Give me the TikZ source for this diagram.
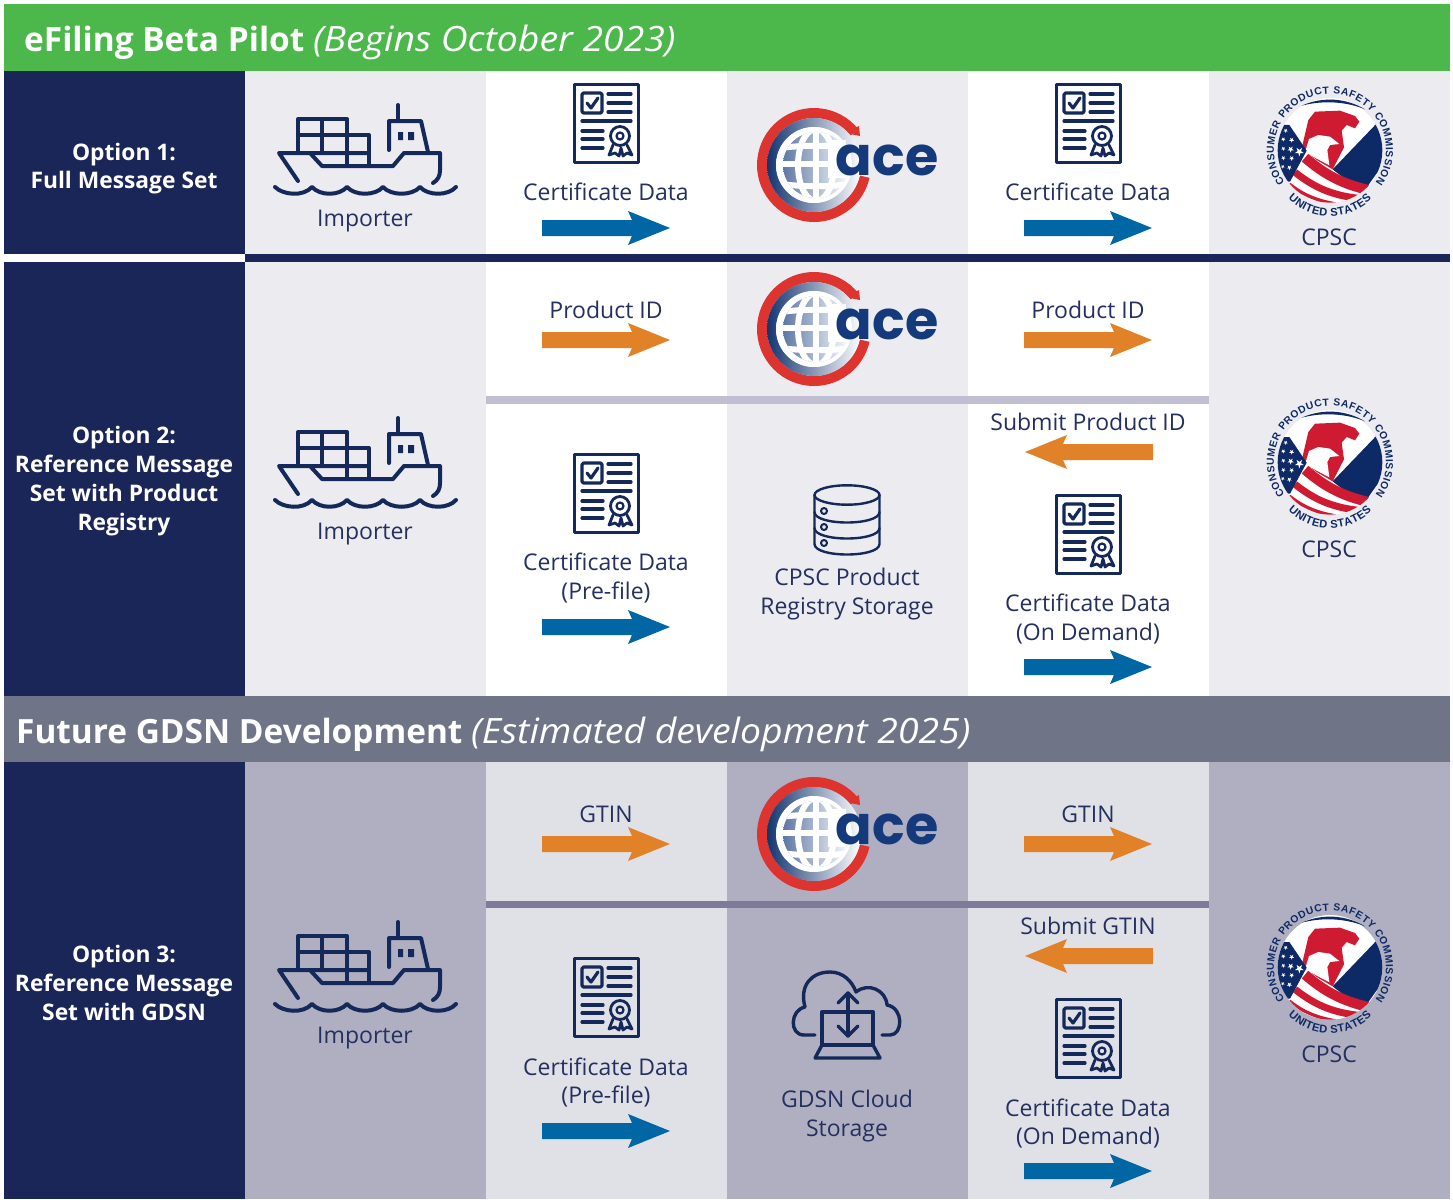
\documentclass[tikz,border=0pt]{standalone}
\usepackage{fontspec}
\setmainfont{Open Sans}
\newfontfamily\sealfont{Liberation Sans}
\newfontfamily\acefont{Poppins}
\newfontfamily\hdit[FakeStretch=1.07]{Open Sans}
\usetikzlibrary{decorations.text}
\definecolor{navy}{HTML}{1A2657}
\definecolor{icon}{HTML}{14285A}
\definecolor{ink}{HTML}{25305F}
\definecolor{greenhd}{HTML}{4CB84B}
\definecolor{grayhd}{HTML}{6F7487}
\definecolor{lite}{HTML}{EBEBF0}
\definecolor{midg}{HTML}{AFAFC1}
\definecolor{paleg}{HTML}{E0E1E6}
\definecolor{div1}{HTML}{BFBED2}
\definecolor{div2}{HTML}{7C7B99}
\definecolor{arblue}{HTML}{0066A4}
\definecolor{arorange}{HTML}{E18229}
\definecolor{acered}{HTML}{DD3430}
\definecolor{aceblue}{HTML}{143A7C}
\definecolor{sealnavy}{HTML}{0E2A66}
\definecolor{sealred}{HTML}{CE1B32}
\newcommand\sealfmt{\sealfont\bfseries\fontsize{10.3}{10.3}\selectfont\color{sealnavy}}
\newcommand\sealfmtb{\sealfont\bfseries\fontsize{11.2}{11.2}\selectfont\color{sealnavy}}
\newcommand\sealstar[3]{\fill[white] (#1,#2) +(90:#3) -- +(234:#3) -- +(18:#3) -- +(162:#3) -- +(306:#3) -- cycle;}
\tikzset{
  lbl/.style={font=\fontsize{23}{28.8}\selectfont,text=ink,align=center,inner sep=0pt},
  opt/.style={font=\fontsize{22.8}{28.8}\selectfont\bfseries,text=white,align=center,inner sep=0pt},
  hd/.style={text=white,anchor=west,inner sep=0pt},
  iconline/.style={draw=icon,line width=#1,line cap=round,line join=round},
  iconline/.default=3.5pt,
  blockarrow/.pic={\fill[pic actions] (0,-8) -- (90,-8) -- (86,-17) -- (128,0) -- (86,17) -- (90,8) -- (0,8) -- cycle;},
  shipicon/.pic={
    \begin{scope}[iconline=4pt]
      \draw (298,181) -- (279,153) -- (369,153);
      \draw (310,153) -- (322,166) -- (393,166) -- (404,153) -- (440,153) -- (440,170) .. controls (440,176) and (438,180) .. (433,183);
      \draw (298,153) -- (298,119) -- (347,119) -- (347,166);
      \draw (347,135) -- (369,135) -- (369,166);
      \draw (298,135) -- (347,135);
      \draw (322,119) -- (322,153);
      \draw (389,150) -- (389,121) -- (421,121) -- (428,152);
      \draw (398,105) -- (398,121);
      \draw (275,187) .. controls (283,195) and (303,197) .. (312,187) .. controls (320,196) and (339,196) .. (347,187) .. controls (355,196) and (375,196) .. (383,187) .. controls (391,196) and (412,196) .. (420,187) .. controls (428,196) and (448,196) .. (456,187);
    \end{scope}
    \fill[icon] (398,132) rectangle (403,140) (408,132) rectangle (414,140);
  },
  docicon/.pic={
    \begin{scope}[iconline=3.2pt]
      \draw (574.3,84.7) rectangle (638.7,162.5);
      \draw[rounded corners=1.5pt] (582,93) rectangle (602,113);
      \draw (587,103) -- (591,108) -- (598,98);
      \draw (608,94) -- (631,94) (608,103) -- (631,103) (608,112) -- (631,112);
      \draw (582,121) -- (631,121);
      \draw (582,131) -- (603,131) (582,139) -- (603,139) (582,148) -- (603,148);
      \draw[line width=2.8pt] (620,136) circle (9.5);
      \draw[line width=2.2pt] (620,136) circle (3.5);
      \draw[line width=2.8pt] (613,145) -- (609,155) -- (615,153) -- (619,156) -- (621,148) -- (623,156) -- (627,153) -- (632,155) -- (627,145);
    \end{scope}
  },
  acelogo/.pic={
    \begin{scope}[shift={(814,165)},x=1pt,y=1pt]
      \fill[acered] (39:57) arc (39:347:57) -- (347:47) arc (347:39:47) -- cycle;
      \fill[acered] (45,39) -- (31,32) -- (46,29) -- cycle;
      \shade[even odd rule,left color=aceblue!90!black,right color=white] (0,0) circle (47) (0,0) circle (38);
      \fill[white] (0,0) circle (38);
      \begin{scope}
        \clip (2,0) circle (33);
        \shade[left color=aceblue!70!white,right color=white] (-32,-34) rectangle (36,34);
        \draw[white,line width=6pt] (2,-34) -- (2,34);
        \draw[white,line width=6pt] (2,0) ellipse (18 and 36);
        \draw[white,line width=6pt] (-34,1) -- (38,1);
        \draw[white,line width=6pt] (-34,17) .. controls (-10,20) and (14,20) .. (38,17);
        \draw[white,line width=6pt] (-34,-19) .. controls (-10,-22) and (14,-22) .. (38,-19);
      \end{scope}
    \end{scope}
    \fill[white] (828,140) rectangle (846,178);
  },
  sealicon/.pic={
    \begin{scope}[shift={(1240,70)},x=.33333pt,y=-.33333pt]
      \fill[white] (270,241) circle (157);
      \begin{scope}
        \clip (270,241) circle (157);
        \fill[sealred] (185,235) -- (205,150) -- (225,125) -- (300,122) -- (345,138) -- (358,155) -- (345,175) -- (320,165) -- (305,182) -- (312,232) -- (278,298) -- (230,270) -- cycle;
        \fill[white] (197,240) -- (207,207) -- (235,195) -- (270,200) -- (298,222) -- (270,225) -- (262,240) -- (268,286) -- (200,250) -- cycle;
        \fill[sealnavy] (278,298) -- (418,152) -- (460,240) -- (378,355) .. controls (345,345) and (310,325) .. (278,298);
        \draw[sealred,line width=10pt] (195,263) .. controls (250,310) and (300,340) .. (385,360);
        \draw[sealred,line width=7pt] (165,307) .. controls (220,350) and (270,375) .. (355,385);
        \draw[sealred,line width=3.2pt] (148,342) .. controls (190,375) and (230,392) .. (290,402);
        \fill[sealnavy] (148,165) -- (200,242) -- (150,335) -- (100,335) -- (100,165) -- cycle;
        \sealstar{178}{245}{14}
        \sealstar{152}{238}{10}
        \sealstar{130}{236}{7}
        \sealstar{155}{210}{8}
        \sealstar{130}{208}{7}
        \sealstar{137}{182}{7}
        \sealstar{155}{265}{8}
        \sealstar{130}{264}{7}
        \sealstar{148}{293}{8}
        \sealstar{128}{290}{6}
      \end{scope}
      \fill[sealnavy] (185,107) .. controls (250,78) and (320,85) .. (375,118) .. controls (320,95) and (250,90) .. cycle;
    \end{scope}
    \begin{scope}[shift={(1330,150)},x=1pt,y=1pt]
      \path[decorate,decoration={text along path,text align={fit to path},text={|\sealfmt|CONSUMER PRODUCT SAFETY COMMISSION}}] (216:56) arc (216:-36:56);
      \path[decorate,decoration={text along path,text align={fit to path},text={|\sealfmtb|UNITED STATES}}] (0,-7) ++(225:59) arc (225:315:59);
    \end{scope}
  },
  dbicon/.pic={
    \begin{scope}[iconline=2.4pt]
      \draw (847,495) ellipse (32.5 and 9.7);
      \draw (814.5,495) -- (814.5,544) .. controls (814.5,558) and (879.5,558) .. (879.5,544) -- (879.5,495);
      \draw (814.5,512) .. controls (814.5,526) and (879.5,526) .. (879.5,512);
      \draw (814.5,528) .. controls (814.5,542) and (879.5,542) .. (879.5,528);
      \draw[line width=2pt] (824,511) circle (3) (824,527) circle (3) (824,543) circle (3);
    \end{scope}
  },
  cloudicon/.pic={
    \begin{scope}[iconline=3.4pt]
      \draw (815,1035) -- (804,1035) .. controls (789,1035) and (790,1010) .. (805,1007) .. controls (799,985) and (812,972) .. (830,972) .. controls (843,972) and (852,981) .. (856,992) .. controls (868,982) and (886,990) .. (887,1005) .. controls (904,1008) and (903,1035) .. (890,1035) -- (882,1035);
      \draw (822,1045) -- (822,1012) -- (873,1012) -- (873,1045) -- cycle;
      \draw (822,1045) -- (815,1058) -- (880,1058) -- (873,1045);
      \draw (848,993) -- (848,1036);
      \draw (838,1003) -- (848,993) -- (858,1003);
      \draw (838,1026) -- (848,1036) -- (858,1026);
    \end{scope}
  },
}
\newcommand\hdA[1]{\fontsize{33.4}{33}\selectfont\bfseries #1}
\newcommand\hdB[1]{{\hdit\fontsize{34.9}{33}\selectfont\mdseries\itshape #1}}
\begin{document}
\begin{tikzpicture}[x=1pt,y=-1pt]
\useasboundingbox (0,0) rectangle (1453,1199);
\fill[white] (0,0) rectangle (1453,1199);
% bands and columns
\fill[greenhd] (4,4) rectangle (1450,71);
\fill[navy] (4,71) rectangle (245,254);
\fill[lite] (245,71) rectangle (486,254);
\fill[lite] (727,71) rectangle (968,254);
\fill[lite] (1209,71) rectangle (1450,254);
\fill[navy] (245,254) rectangle (1450,262);
\fill[navy] (4,262) rectangle (245,696);
\fill[lite] (245,262) rectangle (486,696);
\fill[lite] (727,262) rectangle (968,696);
\fill[lite] (1209,262) rectangle (1450,696);
\fill[div1] (486,396) rectangle (1209,404);
\fill[grayhd] (4,696) rectangle (1450,762);
\fill[navy] (4,762) rectangle (245,1199);
\fill[midg] (245,762) rectangle (486,1199);
\fill[paleg] (486,762) rectangle (727,1199);
\fill[midg] (727,762) rectangle (968,1199);
\fill[paleg] (968,762) rectangle (1209,1199);
\fill[midg] (1209,762) rectangle (1450,1199);
\fill[div2] (486,901) rectangle (1209,908);
% headers
\node[hd] (hdrA) at (24,42.5) {\hdA{eFiling Beta Pilot} \hdB{(Begins October 2023)}};
\node[hd] (hdrB) at (16,734.5) {\hdA{Future GDSN Development} \hdB{(Estimated development 2025)}};
% option labels
\node[opt] (optA) at (124,168.5) {Option 1:\\Full Message Set};
\node[opt] (optB) at (124,481) {Option 2:\\Reference Message\\Set with Product\\Registry};
\node[opt] (optC) at (124,983) {Option 3:\\Reference Message\\Set with GDSN};
% ships
\pic at (0,0) {shipicon};
\pic at (0,313) {shipicon};
\pic at (0,817) {shipicon};
\node[lbl] (impA) at (365,221) {Importer};
\node[lbl] (impB) at (365,534) {Importer};
\node[lbl] (impC) at (365,1038) {Importer};
% documents
\pic at (0,0) {docicon};
\pic at (482,0) {docicon};
\pic at (0,370) {docicon};
\pic at (482,411) {docicon};
\pic at (0,874) {docicon};
\pic at (482,915) {docicon};
% ace logos
\pic at (0,0) {acelogo};
\pic at (0,164) {acelogo};
\pic at (0,669) {acelogo};
\node[font=\acefont\bfseries\fontsize{54}{54}\selectfont,text=aceblue,inner sep=0pt,anchor=base] (aceA) at (887,175) {ace};
\node[font=\acefont\bfseries\fontsize{54}{54}\selectfont,text=aceblue,inner sep=0pt,anchor=base] (aceB) at (887,339) {ace};
\node[font=\acefont\bfseries\fontsize{54}{54}\selectfont,text=aceblue,inner sep=0pt,anchor=base] (aceC) at (887,844) {ace};
% seals
\pic at (0,0) {sealicon};
\pic at (0,312) {sealicon};
\pic at (0,817) {sealicon};
\node[lbl] (cpA) at (1329,237) {CPSC};
\node[lbl] (cpB) at (1329,549) {CPSC};
\node[lbl] (cpC) at (1329,1054) {CPSC};
% storage
\pic at (0,0) {dbicon};
\pic at (0,0) {cloudicon};
\node[lbl] (stB) at (847,594) {CPSC Product\\Registry Storage};
\node[lbl] (stC) at (847,1116) {GDSN Cloud\\Storage};
% row 1
\node[lbl] (c1L) at (606,192) {Certificate Data};
\node[lbl] (c1R) at (1088,192) {Certificate Data};
\pic[fill=arblue] at (542,228) {blockarrow};
\pic[fill=arblue] at (1024,228) {blockarrow};
% row 2
\node[lbl] (p2L) at (606,310) {Product ID};
\node[lbl] (p2R) at (1088,310) {Product ID};
\pic[fill=arorange] at (542,340) {blockarrow};
\pic[fill=arorange] at (1024,340) {blockarrow};
\node[lbl] (s2) at (1088,422) {Submit Product ID};
\pic[fill=arorange,xscale=-1] at (1153,452) {blockarrow};
\node[lbl] (c2L) at (606,578) {Certificate Data\\(Pre-file)};
\pic[fill=arblue] at (542,627) {blockarrow};
\node[lbl] (c2R) at (1088,619) {Certificate Data\\(On Demand)};
\pic[fill=arblue] at (1024,667) {blockarrow};
% row 3
\node[lbl] (g3L) at (606,814) {GTIN};
\node[lbl] (g3R) at (1088,814) {GTIN};
\pic[fill=arorange] at (542,844) {blockarrow};
\pic[fill=arorange] at (1024,844) {blockarrow};
\node[lbl] (s3) at (1088,926) {Submit GTIN};
\pic[fill=arorange,xscale=-1] at (1153,956) {blockarrow};
\node[lbl] (c3L) at (606,1082.5) {Certificate Data\\(Pre-file)};
\pic[fill=arblue] at (542,1131) {blockarrow};
\node[lbl] (c3R) at (1088,1123.5) {Certificate Data\\(On Demand)};
\pic[fill=arblue] at (1024,1171) {blockarrow};
\end{tikzpicture}
\end{document}
